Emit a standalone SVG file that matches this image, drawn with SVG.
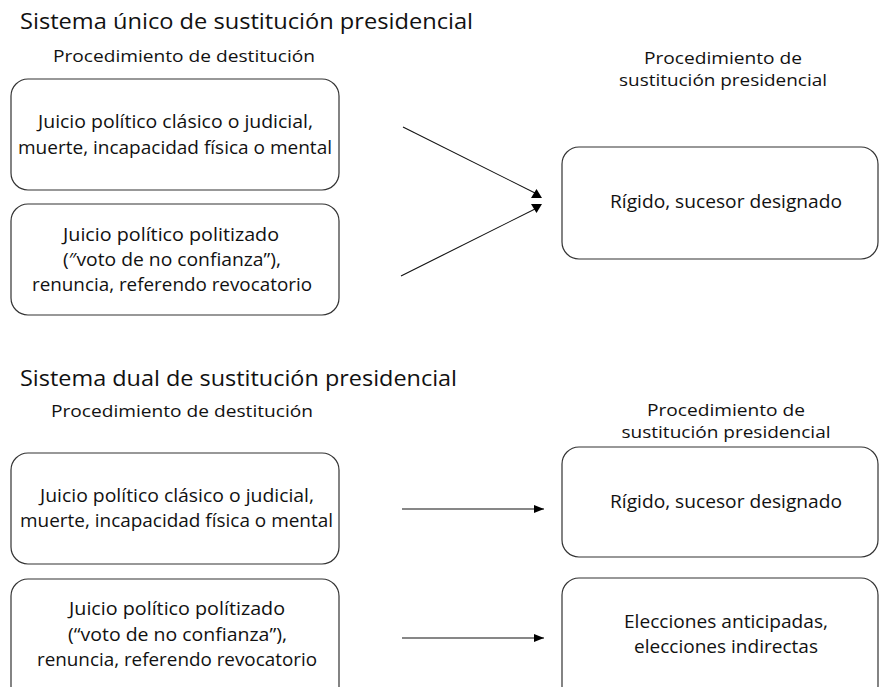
<svg xmlns="http://www.w3.org/2000/svg" width="879" height="687" viewBox="0 0 879 687">
<defs>
<style>
text{font-family:"Open Sans","Noto Sans","Liberation Sans",sans-serif;fill:#111;}
.t{font-size:21.5px;}
.h{font-size:17px;text-anchor:middle;}
.h2{font-size:16px;text-anchor:middle;}
.b{font-size:17.5px;text-anchor:middle;}
.box{fill:#fff;stroke:#333;stroke-width:1.2;}
.ln{stroke:#111;stroke-width:1.1;fill:none;}
.hd{fill:#000;}
</style>
<marker id="ah" markerWidth="10" markerHeight="8" refX="10" refY="4" orient="auto" markerUnits="userSpaceOnUse">
<polygon points="0,0 10,4 0,8" class="hd"/>
</marker>
</defs>
<rect width="879" height="687" fill="#fff"/>

<text class="t" x="20" y="29" textLength="453" lengthAdjust="spacingAndGlyphs">Sistema único de sustitución presidencial</text>
<text class="h" x="184" y="62" textLength="262" lengthAdjust="spacingAndGlyphs">Procedimiento de destitución</text>
<text class="h2" x="723" y="64" textLength="158" lengthAdjust="spacingAndGlyphs">Procedimiento de</text>
<text class="h2" x="723" y="86" textLength="208" lengthAdjust="spacingAndGlyphs">sustitución presidencial</text>

<text class="t" x="20" y="386" textLength="437" lengthAdjust="spacingAndGlyphs">Sistema dual de sustitución presidencial</text>
<text class="h" x="182" y="417" textLength="262" lengthAdjust="spacingAndGlyphs">Procedimiento de destitución</text>
<text class="h2" x="726" y="416" textLength="158" lengthAdjust="spacingAndGlyphs">Procedimiento de</text>
<text class="h2" x="726" y="438" textLength="209" lengthAdjust="spacingAndGlyphs">sustitución presidencial</text>

<g id="n1">
<rect class="box" x="11" y="79" width="328" height="111" rx="17"/>
<text class="b" x="175.5" y="128" textLength="275" lengthAdjust="spacingAndGlyphs">Juicio político clásico o judicial,</text>
<text class="b" x="175" y="154" textLength="314" lengthAdjust="spacingAndGlyphs">muerte, incapacidad física o mental</text>
</g>
<g id="n2">
<rect class="box" x="11" y="204" width="328" height="111" rx="17"/>
<text class="b" x="171" y="241" textLength="216" lengthAdjust="spacingAndGlyphs">Juicio político politizado</text>
<text class="b" x="172" y="266" textLength="218" lengthAdjust="spacingAndGlyphs">(″voto de no confianza”),</text>
<text class="b" x="172" y="291" textLength="280" lengthAdjust="spacingAndGlyphs">renuncia, referendo revocatorio</text>
</g>
<g id="n3">
<rect class="box" x="562" y="147" width="316" height="112" rx="17"/>
<text class="b" x="726" y="208" textLength="232" lengthAdjust="spacingAndGlyphs">Rígido, sucesor designado</text>
</g>

<g id="n4">
<rect class="box" x="11" y="453" width="328" height="111" rx="17"/>
<text class="b" x="177" y="502" textLength="274" lengthAdjust="spacingAndGlyphs">Juicio político clásico o judicial,</text>
<text class="b" x="176.5" y="527" textLength="313" lengthAdjust="spacingAndGlyphs">muerte, incapacidad física o mental</text>
</g>
<g id="n5">
<rect class="box" x="11" y="579" width="328" height="125" rx="17"/>
<text class="b" x="177" y="615" textLength="216" lengthAdjust="spacingAndGlyphs">Juicio político polítizado</text>
<text class="b" x="177.5" y="641" textLength="219" lengthAdjust="spacingAndGlyphs">(“voto de no confianza”),</text>
<text class="b" x="177" y="666" textLength="280" lengthAdjust="spacingAndGlyphs">renuncia, referendo revocatorio</text>
</g>
<g id="n6">
<rect class="box" x="562" y="447" width="316" height="110" rx="17"/>
<text class="b" x="726" y="508" textLength="232" lengthAdjust="spacingAndGlyphs">Rígido, sucesor designado</text>
</g>
<g id="n7">
<rect class="box" x="562" y="578" width="316" height="125" rx="17"/>
<text class="b" x="726" y="628" textLength="204" lengthAdjust="spacingAndGlyphs">Elecciones anticipadas,</text>
<text class="b" x="726" y="653" textLength="184" lengthAdjust="spacingAndGlyphs">elecciones indirectas</text>
</g>

<g id="connectors">
<line class="ln" x1="403" y1="127" x2="535" y2="193"/>
<polygon class="hd" points="531,198 542,198 536.5,189"/>
<line class="ln" x1="401" y1="276" x2="537" y2="208"/>
<polygon class="hd" points="531,204 542,204 536.5,213"/>
<line class="ln" x1="402" y1="509" x2="544" y2="509" marker-end="url(#ah)"/>
<line class="ln" x1="402" y1="638" x2="544" y2="638" marker-end="url(#ah)"/>
</g>
</svg>
